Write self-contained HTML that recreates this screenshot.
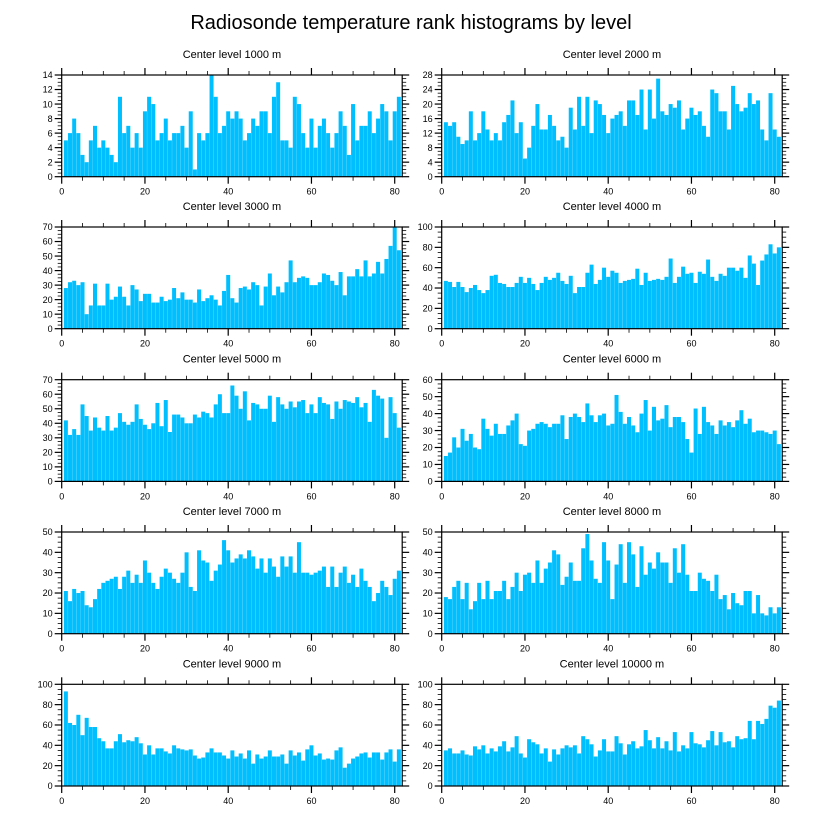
<!DOCTYPE html>
<html><head><meta charset="utf-8">
<style>
html,body{margin:0;padding:0;background:#fff;}
svg{display:block;font-family:"Liberation Sans",sans-serif;}
</style></head>
<body>
<svg id="chart" width="822" height="824" viewBox="0 0 822 824" xmlns="http://www.w3.org/2000/svg">
<text x="411" y="29" text-anchor="middle" font-size="20">Radiosonde temperature rank histograms by level</text>
</svg>
<script>
const levels = ["1000","2000","3000","4000","5000","6000","7000","8000","9000","10000"];
const yMaxes = [14,28,70,100,70,60,50,50,100,100];
const yMajorSteps = [2,4,10,20,10,10,10,10,20,20];
const xTickLabels = [0,20,40,60,80];
const counts1000 = [5,6,8,6,3,2,5,7,4,5,4,3,2,11,6,7,4,6,4,9,11,10,5,6,8,5,6,6,7,4,9,1,6,5,6,14,11,6,7,9,8,9,8,5,6,8,7,9,9,6,11,13,5,5,4,11,10,6,4,8,4,7,8,6,4,6,9,7,3,10,5,7,7,9,6,8,10,9,5,9,11];
const counts2000 = [15,14,15,11,9,10,18,10,12,18,13,10,12,10,15,17,21,12,15,5,8,14,20,13,13,17,14,10,11,8,19,13,22,14,22,12,21,20,17,12,16,17,18,14,21,21,17,24,13,24,16,27,18,17,20,19,21,13,16,19,17,18,14,11,24,23,18,18,13,25,20,18,19,23,20,21,13,10,23,13,11];
const counts3000 = [28,32,33,30,32,10,16,31,16,16,31,20,22,29,22,16,30,27,19,24,24,18,18,22,19,20,28,21,25,20,20,18,27,19,21,23,20,16,26,37,21,18,28,29,27,32,30,16,29,38,23,29,25,32,47,32,35,36,35,30,30,32,38,37,33,30,39,23,36,36,41,36,47,36,38,46,38,48,57,70,54];
const counts4000 = [47,46,41,46,41,36,40,43,38,35,38,52,53,45,44,41,41,45,51,45,50,44,38,45,51,48,50,55,47,44,52,35,41,41,55,63,44,48,60,51,57,55,45,47,48,49,59,43,55,47,48,49,48,51,69,45,51,61,54,55,45,56,54,68,51,47,54,52,60,60,57,60,50,72,64,43,67,73,83,74,80];
const counts5000 = [42,32,36,32,53,45,35,44,37,35,45,35,37,47,41,39,41,53,43,39,36,40,54,38,56,34,46,46,44,40,40,46,44,48,47,44,53,60,47,47,66,59,50,62,42,54,53,50,50,59,41,58,53,50,55,51,55,56,47,53,47,58,54,53,43,55,50,56,55,54,58,51,54,41,63,59,57,30,58,47,37];
const counts6000 = [15,17,26,20,31,24,28,20,19,37,31,27,34,28,28,33,36,40,22,21,30,31,34,35,34,32,34,34,39,25,38,40,38,35,46,39,35,39,40,33,34,51,41,34,38,33,29,40,48,30,44,36,37,45,32,38,38,35,25,17,43,28,44,35,33,28,36,33,35,32,36,42,34,37,29,30,30,29,28,30,22];
const counts7000 = [21,16,22,20,21,14,13,17,22,25,26,27,28,22,28,31,25,29,25,36,30,25,22,28,32,30,27,25,30,40,23,21,41,36,35,26,31,34,46,41,35,37,39,37,41,38,32,37,30,37,33,28,38,33,38,30,45,30,30,29,30,31,33,23,33,23,30,33,25,29,23,32,26,23,16,20,26,23,19,27,31];
const counts8000 = [18,17,23,26,17,25,12,16,25,17,26,17,21,21,26,17,23,30,21,29,30,25,36,25,32,35,41,39,24,28,35,26,26,42,49,36,27,25,45,36,17,34,44,25,45,39,23,43,29,35,32,40,35,35,25,42,30,44,29,21,21,30,27,26,21,29,17,19,12,20,15,14,21,21,10,19,10,9,13,10,13];
const counts9000 = [93,62,60,70,50,67,58,58,47,44,37,37,44,51,43,45,44,48,42,31,40,31,37,37,34,32,40,37,36,35,36,30,27,28,33,37,33,33,30,27,35,29,32,27,35,22,31,27,29,35,29,29,31,22,35,30,33,25,36,40,30,32,26,27,26,35,38,18,22,27,29,32,33,28,33,33,26,33,36,24,36];
const counts10000 = [35,37,32,32,35,31,30,39,36,40,32,37,34,39,44,34,38,49,32,28,46,43,41,32,37,24,36,31,37,40,38,40,32,49,46,41,29,35,46,34,34,49,42,31,41,44,37,39,55,45,37,48,37,44,35,53,34,40,37,53,42,41,38,45,54,40,53,43,44,38,49,46,47,64,46,64,61,66,79,77,84];
const allCounts = [counts1000,counts2000,counts3000,counts4000,counts5000,counts6000,counts7000,counts8000,counts9000,counts10000];

const NS = "http://www.w3.org/2000/svg";
const svg = document.getElementById("chart");
function mk(tag, attrs, parent){ const e=document.createElementNS(NS,tag); for(const k in attrs) e.setAttribute(k,attrs[k]); (parent||svg).appendChild(e); return e; }

const colLeft = [61.7, 441.7];
const rowTop = [75, 227, 379.7, 532, 684.3];
const plotW = 340.5, plotH = 101.7, xMax = 81.8;

for (let p = 0; p < 10; p++) {
  const L = colLeft[p % 2], T = rowTop[Math.floor(p / 2)], B = T + plotH;
  const yMax = yMaxes[p], step = yMajorSteps[p], data = allCounts[p];
  const xs = v => L + v / xMax * plotW;
  const ys = v => B - v / yMax * plotH;
  const g = mk("g", {});
  
  
  const t = mk("text", {x: L + plotW / 2, y: T - 17, "text-anchor": "middle", "font-size": "11"}, g);
  t.textContent = "Center level " + levels[p] + " m";
  
  
  data.forEach((v, i) => {
    const c = i + 1;
    const r = mk("rect", {x: xs(c - 0.48), y: ys(v), width: xs(c + 0.48) - xs(c - 0.48), height: B - ys(v), fill: "#00bfff"}, g);
    
    
  });
  const frame = mk("rect", {x: L, y: T, width: plotW, height: plotH, fill: "none", stroke: "#000", "stroke-width": "1.2"}, g);
  
  
  for (let v = 0; v <= 80; v += 5) {
    const major = v % 20 === 0, len = major ? 7 : 4, x = xs(v);
    mk("line", {x1: x, x2: x, y1: B, y2: B + len, stroke: "#000", "stroke-width": major ? 1.2 : 0.8}, g);
    mk("line", {x1: x, x2: x, y1: T, y2: T - len, stroke: "#000", "stroke-width": major ? 1.2 : 0.8}, g);
  }
  xTickLabels.forEach(v => {
    const tl = mk("text", {x: xs(v), y: B + 18, "text-anchor": "middle", "font-size": "9"}, g);
    tl.textContent = v;
    
    
  });
  const minor = step / 4;
  for (let k = 0; k * minor <= yMax + 1e-9; k++) {
    const v = k * minor, major = k % 4 === 0, len = major ? 7 : 4, y = ys(v);
    mk("line", {x1: L, x2: L - len, y1: y, y2: y, stroke: "#000", "stroke-width": major ? 1.2 : 0.8}, g);
    mk("line", {x1: L + plotW, x2: L + plotW + len, y1: y, y2: y, stroke: "#000", "stroke-width": major ? 1.2 : 0.8}, g);
    if (major) {
      const yl = mk("text", {x: L - 9, y: y + 3.2, "text-anchor": "end", "font-size": "9"}, g);
      yl.textContent = v;
      
      
    }
  }
}
</script>
</body></html>
